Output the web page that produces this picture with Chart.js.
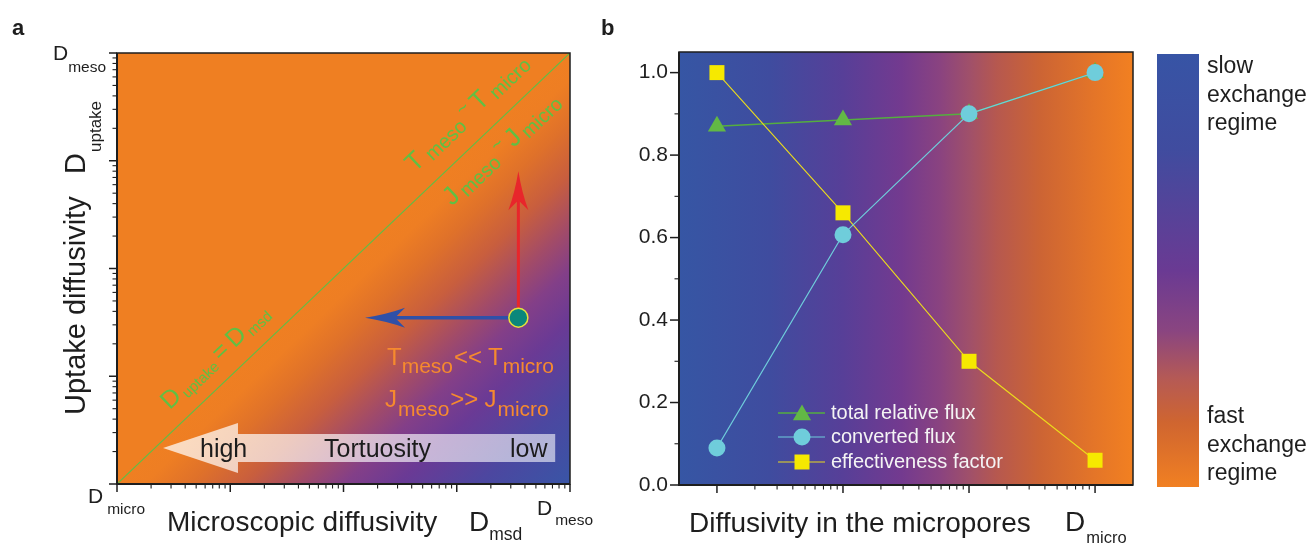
<!DOCTYPE html>
<html><head><meta charset="utf-8">
<script src="https://cdn.jsdelivr.net/npm/chart.js@4"></script>
<style>
html,body{margin:0;padding:0;background:#fff;width:1311px;height:546px;overflow:hidden}
#wa{position:absolute;left:0;top:0;width:600px;height:546px}
#wb{position:absolute;left:600px;top:0;width:711px;height:546px}
</style></head><body>
<div id="wa"><canvas id="ca" width="600" height="546"></canvas></div>
<div id="wb"><canvas id="cb" width="711" height="546"></canvas></div>
<script>
// ---------- Panel a data ----------
const axisA = [1, 10000];                 // D_micro .. D_meso (log)
const diagX = [1, 10000];                 // D_uptake = D_msd
const diagY = [1, 10000];
const stateX = [3500];                    // marked state (D_msd)
const stateY = [35];                      // marked state (D_uptake)
const upArrowTipY = [800];
const leftArrowTipX = [155];
const tortuosityX = [2.55, 11.7, 7400];   // tip, head base, tail
const tortuosityY = [2.16];

// ---------- Panel b data ----------
const microDiffusivity = [1, 10, 100, 1000];
const totalRelativeFlux = [0.87, 0.885, 0.90, 1.0];
const convertedFlux = [0.09, 0.607, 0.90, 1.0];
const effectivenessFactor = [1.0, 0.66, 0.30, 0.06];
const yTicksB = [0, 0.2, 0.4, 0.6, 0.8, 1.0];
const seriesNames = ['total relative flux', 'converted flux', 'effectiveness factor'];

const FONT = '"Liberation Sans", Arial, Helvetica, sans-serif';
function font(s, w) { return (w || 'normal') + ' ' + s + 'px ' + FONT; }

function rich(ctx, parts, x, y, color) {
  ctx.fillStyle = color; ctx.textBaseline = 'alphabetic'; ctx.textAlign = 'left';
  let cx = x;
  for (const p of parts) {
    ctx.font = font(p.s, p.w);
    cx += (p.dx || 0);
    ctx.fillText(p.t, cx, y + (p.dy || 0));
    cx += ctx.measureText(p.t).width;
  }
}
function logTickValues(lo, hi) {
  const out = [];
  for (let e = Math.round(Math.log10(lo)); e < Math.round(Math.log10(hi)); e++) {
    for (let k = 1; k < 10; k++) out.push({ v: k * Math.pow(10, e), major: k === 1 });
  }
  out.push({ v: hi, major: true });
  return out;
}
function arrow(ctx, x0, y0, x1, y1, color, w, len, half, notch) {
  const dx = x1 - x0, dy = y1 - y0, L = Math.hypot(dx, dy), ux = dx / L, uy = dy / L, nx = -uy, ny = ux;
  const bx = x1 - ux * len, by = y1 - uy * len;
  const cx = x1 - ux * (len - notch), cy = y1 - uy * (len - notch);
  ctx.save();
  ctx.strokeStyle = color; ctx.lineWidth = w;
  ctx.beginPath(); ctx.moveTo(x0, y0); ctx.lineTo(cx, cy); ctx.stroke();
  ctx.fillStyle = color;
  ctx.beginPath(); ctx.moveTo(x1, y1);
  ctx.quadraticCurveTo(x1 - ux * len * 0.55 + nx * half * 0.35, y1 - uy * len * 0.55 + ny * half * 0.35, bx + nx * half, by + ny * half);
  ctx.lineTo(cx, cy);
  ctx.lineTo(bx - nx * half, by - ny * half);
  ctx.quadraticCurveTo(x1 - ux * len * 0.55 - nx * half * 0.35, y1 - uy * len * 0.55 - ny * half * 0.35, x1, y1);
  ctx.closePath(); ctx.fill();
  ctx.restore();
}
function marker(ctx, style, x, y, r, fill) {
  ctx.save(); ctx.fillStyle = fill; ctx.beginPath();
  if (style === 'circle') ctx.arc(x, y, r, 0, Math.PI * 2);
  else if (style === 'triangle') {
    for (let i = 0; i < 3; i++) {
      const a = i * 2 * Math.PI / 3;
      const px = x + Math.sin(a) * r, py = y - Math.cos(a) * r;
      i ? ctx.lineTo(px, py) : ctx.moveTo(px, py);
    }
    ctx.closePath();
  } else { const s = Math.SQRT1_2 * r; ctx.rect(x - s, y - s, 2 * s, 2 * s); }
  ctx.fill(); ctx.restore();
}

// ---------- Panel a ----------
const plugA = {
  id: 'pa',
  beforeDatasetsDraw(chart) {
    const { ctx, chartArea: a, scales: { x, y } } = chart;
    const O = { x: x.getPixelForValue(diagX[0]), y: y.getPixelForValue(diagY[0]) };
    const E = { x: x.getPixelForValue(diagX[1]), y: y.getPixelForValue(diagY[1]) };
    const C = { x: a.right, y: a.bottom };
    let dx = E.x - O.x, dy = E.y - O.y; const L = Math.hypot(dx, dy); dx /= L; dy /= L;
    const pr = (C.x - O.x) * dx + (C.y - O.y) * dy;
    const F = { x: O.x + pr * dx, y: O.y + pr * dy };
    const g = ctx.createLinearGradient(F.x, F.y, C.x, C.y);
    [[0, '#ef7f22'], [0.06, '#ee7e23'], [0.16, '#df712a'], [0.28, '#c85e3e'], [0.4, '#a24b68'],
     [0.5, '#833f88'], [0.62, '#6a3a95'], [0.8, '#4c47a0'], [1, '#3955a6']].forEach(s => g.addColorStop(s[0], s[1]));
    ctx.save(); ctx.fillStyle = g; ctx.fillRect(a.left, a.top, a.width, a.height); ctx.restore();
    const sx = x.getPixelForValue(stateX[0]), sy = y.getPixelForValue(stateY[0]);
    arrow(ctx, sx, sy, sx, y.getPixelForValue(upArrowTipY[0]), '#e8262b', 3, 39, 10, 10);
    arrow(ctx, sx, sy, x.getPixelForValue(leftArrowTipX[0]), sy, '#2f50a8', 3.5, 40, 10, 10);
  },
  afterDatasetsDraw(chart) {
    const { ctx, chartArea: a, scales: { x, y } } = chart;
    const xt = x.getPixelForValue(tortuosityX[0]), xb = x.getPixelForValue(tortuosityX[1]), xe = x.getPixelForValue(tortuosityX[2]);
    const yc = y.getPixelForValue(tortuosityY[0]);
    ctx.save();
    const g = ctx.createLinearGradient(xt, 0, xe, 0);
    g.addColorStop(0, 'rgba(255,255,255,0.72)'); g.addColorStop(1, 'rgba(255,255,255,0.58)');
    ctx.fillStyle = g; ctx.beginPath();
    ctx.moveTo(xt, yc); ctx.lineTo(xb, yc - 25); ctx.lineTo(xb, yc - 14); ctx.lineTo(xe, yc - 14);
    ctx.lineTo(xe, yc + 14); ctx.lineTo(xb, yc + 14); ctx.lineTo(xb, yc + 25); ctx.closePath(); ctx.fill();
    ctx.restore();
    ctx.font = font(25); ctx.fillStyle = '#1c1c1c';
    ctx.fillText('high', 200, 457); ctx.fillText('Tortuosity', 324, 457); ctx.fillText('low', 510, 457);
    const og = '#f68a2e';
    rich(ctx, [{ t: 'T', s: 24 }, { t: 'meso', s: 21, dx: 0, dy: 8 }, { t: '<<', s: 24, dx: 1 }, { t: 'T', s: 24, dx: 6 }, { t: 'micro', s: 21, dy: 8 }], 387, 365, og);
    rich(ctx, [{ t: 'J', s: 24 }, { t: 'meso', s: 21, dx: 1, dy: 9 }, { t: '>>', s: 24, dx: 1 }, { t: 'J', s: 24, dx: 6 }, { t: 'micro', s: 21, dx: 1, dy: 9 }], 385, 407, og);
    const O = { x: x.getPixelForValue(diagX[0]), y: y.getPixelForValue(diagY[0]) };
    const E = { x: x.getPixelForValue(diagX[1]), y: y.getPixelForValue(diagY[1]) };
    const th = Math.atan2(E.y - O.y, E.x - O.x), ux = Math.cos(th), uy = Math.sin(th), nx = uy, ny = -ux;
    const gr = '#5fc044';
    const along = (s, p, parts) => {
      ctx.save(); ctx.translate(O.x + s * ux + p * nx, O.y + s * uy + p * ny); ctx.rotate(th);
      rich(ctx, parts, 0, 0, gr); ctx.restore();
    };
    along(89, 17, [{ t: 'D', s: 25 }, { t: 'uptake', s: 15, dx: 3, dy: 4 }, { t: '=', s: 25, dx: 4 }, { t: 'D', s: 25, dx: 5 }, { t: 'msd', s: 15, dx: 3, dy: 4 }]);
    along(430, 20, [{ t: 'T', s: 26 }, { t: 'meso', s: 20, dx: 5, dy: 4 }, { t: '~', s: 19, dx: 4, dy: -8 }, { t: 'T', s: 26, dx: 4 }, { t: 'micro', s: 20, dx: 5, dy: 4 }]);
    along(434, -30, [{ t: 'J', s: 26 }, { t: 'meso', s: 20, dx: 4, dy: 4 }, { t: '~', s: 19, dx: 4, dy: -8 }, { t: 'J', s: 26, dx: 4 }, { t: 'micro', s: 20, dx: 4, dy: 4 }]);
  },
  afterDraw(chart) {
    const { ctx, chartArea: a, scales: { x, y } } = chart;
    ctx.save();
    ctx.strokeStyle = '#1e1e1e';
    for (const t of logTickValues(axisA[0], axisA[1])) {
      const len = t.major ? 8 : 4.5;
      ctx.lineWidth = t.major ? 1.5 : 1.1;
      const px = x.getPixelForValue(t.v), py = y.getPixelForValue(t.v);
      ctx.beginPath(); ctx.moveTo(px, a.bottom); ctx.lineTo(px, a.bottom + len); ctx.stroke();
      ctx.beginPath(); ctx.moveTo(a.left, py); ctx.lineTo(a.left - len, py); ctx.stroke();
    }
    ctx.lineWidth = 1.5; ctx.strokeRect(a.left, a.top, a.width, a.height);
    ctx.lineWidth = 2;
    ctx.beginPath(); ctx.moveTo(a.left, a.top); ctx.lineTo(a.left, a.bottom); ctx.lineTo(a.right, a.bottom); ctx.stroke();
    ctx.restore();
    const tc = '#1e1e1e';
    rich(ctx, [{ t: 'a', s: 22, w: 'bold' }], 12, 35, tc);
    rich(ctx, [{ t: 'D', s: 21 }, { t: 'meso', s: 15.5, dx: 0, dy: 12 }], 53, 60, tc);
    rich(ctx, [{ t: 'D', s: 21 }, { t: 'micro', s: 15.5, dx: 4, dy: 11 }], 88, 503, tc);
    rich(ctx, [{ t: 'D', s: 21 }, { t: 'meso', s: 15.5, dx: 3, dy: 10 }], 537, 515, tc);
    rich(ctx, [{ t: 'Microscopic diffusivity', s: 28 }], 167, 531, tc);
    rich(ctx, [{ t: 'D', s: 28 }, { t: 'msd', s: 17.5, dx: 0, dy: 9 }], 469, 531, tc);
    ctx.save(); ctx.translate(85, 415); ctx.rotate(-Math.PI / 2);
    rich(ctx, [{ t: 'Uptake diffusivity', s: 29 }], 0, 0, tc);
    rich(ctx, [{ t: 'D', s: 29 }], 241, 0, tc);
    rich(ctx, [{ t: 'uptake', s: 17 }], 263, 16, tc);
    ctx.restore();
  }
};

new Chart(document.getElementById('ca'), {
  type: 'scatter',
  data: {
    datasets: [
      { data: diagX.map((v, i) => ({ x: v, y: diagY[i] })), showLine: true, borderColor: '#62bd45', borderWidth: 1.2, pointRadius: 0 },
      { data: stateX.map((v, i) => ({ x: v, y: stateY[i] })), pointRadius: 9.5, backgroundColor: '#0b877b', borderColor: '#e6e23c', borderWidth: 1.5 }
    ]
  },
  options: {
    responsive: false, animation: false, events: [],
    layout: { padding: { left: 117, top: 53, right: 30, bottom: 62 } },
    plugins: { legend: { display: false }, tooltip: { enabled: false } },
    scales: {
      x: { type: 'logarithmic', min: axisA[0], max: axisA[1], display: false },
      y: { type: 'logarithmic', min: axisA[0], max: axisA[1], display: false }
    }
  },
  plugins: [plugA]
});

// ---------- Panel b ----------
const plugB = {
  id: 'pb',
  beforeDatasetsDraw(chart) {
    const { ctx, chartArea: a } = chart;
    const g = ctx.createLinearGradient(a.left, 0, a.right, 0);
    [[0, '#3656a4'], [0.2, '#3f4c9f'], [0.36, '#573f98'], [0.49, '#733a8f'], [0.575, '#8a4380'],
     [0.64, '#a0506a'], [0.70, '#b6584f'], [0.795, '#cc6434'], [0.915, '#e47528'], [1, '#f28021']].forEach(s => g.addColorStop(s[0], s[1]));
    ctx.save(); ctx.fillStyle = g; ctx.fillRect(a.left, a.top, a.width, a.height); ctx.restore();
  },
  afterDatasetsDraw(chart) {
    const { ctx } = chart;
    const rows = [413, 437, 462];
    const ds = chart.data.datasets;
    ds.forEach((d, i) => {
      const yy = rows[i];
      ctx.save(); ctx.strokeStyle = d.borderColor; ctx.lineWidth = d.borderWidth;
      ctx.beginPath(); ctx.moveTo(178, yy); ctx.lineTo(225, yy); ctx.stroke(); ctx.restore();
      marker(ctx, d.pointStyle, 202, yy + (d.pointStyle === 'triangle' ? 2 : 0), d.pointRadius, d.pointBackgroundColor);
      ctx.font = font(20); ctx.fillStyle = '#f4f4f4'; ctx.textBaseline = 'middle'; ctx.textAlign = 'left';
      ctx.fillText(d.label, 231, yy);
    });
    ctx.textBaseline = 'alphabetic';
  },
  afterDraw(chart) {
    const { ctx, chartArea: a, scales: { x, y } } = chart;
    ctx.save(); ctx.strokeStyle = '#1e1e1e';
    for (let i = 0; i < yTicksB.length; i++) {
      const py = y.getPixelForValue(yTicksB[i]);
      ctx.lineWidth = 1.5; ctx.beginPath(); ctx.moveTo(a.left, py); ctx.lineTo(a.left - 9, py); ctx.stroke();
      if (i < yTicksB.length - 1) {
        const pm = y.getPixelForValue((yTicksB[i] + yTicksB[i + 1]) / 2);
        ctx.lineWidth = 1.1; ctx.beginPath(); ctx.moveTo(a.left, pm); ctx.lineTo(a.left - 4.5, pm); ctx.stroke();
      }
    }
    for (const t of logTickValues(microDiffusivity[0], microDiffusivity[microDiffusivity.length - 1])) {
      const px = x.getPixelForValue(t.v);
      ctx.lineWidth = t.major ? 1.5 : 1.1;
      ctx.beginPath(); ctx.moveTo(px, a.bottom); ctx.lineTo(px, a.bottom + (t.major ? 8 : 4.5)); ctx.stroke();
    }
    ctx.lineWidth = 1.5; ctx.strokeRect(a.left, a.top, a.width, a.height);
    ctx.lineWidth = 2;
    ctx.beginPath(); ctx.moveTo(a.left, a.top); ctx.lineTo(a.left, a.bottom); ctx.lineTo(a.right, a.bottom); ctx.stroke();
    const cb = { l: 557, r: 599, t: 54, b: 487 };
    const g = ctx.createLinearGradient(0, cb.t, 0, cb.b);
    [[0, '#3754a5'], [0.22, '#404c9f'], [0.5, '#6a3a93'], [0.64, '#8a4580'], [0.75, '#b55a55'],
     [0.85, '#cf6530'], [1, '#f18022']].forEach(s => g.addColorStop(s[0], s[1]));
    ctx.fillStyle = g; ctx.fillRect(cb.l, cb.t, cb.r - cb.l, cb.b - cb.t);
    ctx.restore();
    const tc = '#1e1e1e';
    rich(ctx, [{ t: 'b', s: 22, w: 'bold' }], 1, 35, tc);
    [['slow', 73], ['exchange', 102], ['regime', 130], ['fast', 423], ['exchange', 452], ['regime', 480]]
      .forEach(r => rich(ctx, [{ t: r[0], s: 23 }], 607, r[1], tc));
    rich(ctx, [{ t: 'Diffusivity in the micropores', s: 28 }], 89, 532, tc);
    rich(ctx, [{ t: 'D', s: 28 }, { t: 'micro', s: 16.5, dx: 1, dy: 12 }], 465, 531, tc);
  }
};

new Chart(document.getElementById('cb'), {
  type: 'line',
  data: {
    datasets: [
      { label: seriesNames[0], data: microDiffusivity.map((v, i) => ({ x: v, y: totalRelativeFlux[i] })),
        borderColor: '#55ae3f', borderWidth: 1.5, pointStyle: 'triangle', pointRadius: 10.5,
        pointBackgroundColor: '#62b845', pointBorderWidth: 0, order: 2 },
      { label: seriesNames[1], data: microDiffusivity.map((v, i) => ({ x: v, y: convertedFlux[i] })),
        borderColor: '#6fcddb', borderWidth: 1.1, pointStyle: 'circle', pointRadius: 8.5,
        pointBackgroundColor: '#6fcddb', pointBorderWidth: 0, order: 0 },
      { label: seriesNames[2], data: microDiffusivity.map((v, i) => ({ x: v, y: effectivenessFactor[i] })),
        borderColor: '#ecdc1c', borderWidth: 1.1, pointStyle: 'rect', pointRadius: 10.6,
        pointBackgroundColor: '#f6e900', pointBorderWidth: 0, order: 1 }
    ]
  },
  options: {
    responsive: false, animation: false, events: [],
    layout: { padding: { left: 0, top: 52, right: 178, bottom: 61 } },
    plugins: { legend: { display: false }, tooltip: { enabled: false } },
    scales: {
      x: { type: 'logarithmic', min: 0.5, max: 2000, display: false },
      y: {
        type: 'linear', min: 0, max: 1.05,
        afterFit(s) { s.width = 79; },
        afterBuildTicks(s) { s.ticks = yTicksB.map(v => ({ value: v })); },
        grid: { display: false, drawTicks: false }, border: { display: false },
        ticks: { padding: 11, color: '#1e1e1e', font: { family: FONT, size: 21 }, callback: v => Number(v).toFixed(1) }
      }
    }
  },
  plugins: [plugB]
});
</script>
</body></html>
